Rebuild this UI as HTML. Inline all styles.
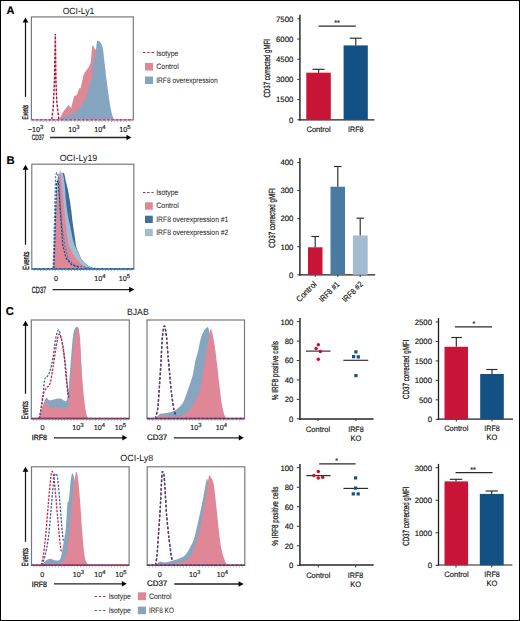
<!DOCTYPE html><html><head><meta charset="utf-8"><style>html,body{margin:0;padding:0;background:#fff;}svg{display:block;}</style></head><body>
<svg width="520" height="621" viewBox="0 0 520 621" text-rendering="geometricPrecision" font-family='"Liberation Sans", sans-serif'>
<rect x="0" y="0" width="520" height="621" fill="#fff" stroke="none" stroke-width="0"/>
<text x="6.6" y="14.4" font-size="11" text-anchor="start" fill="#000" stroke="#000" stroke-width="0.14" font-weight="bold" >A</text>
<text x="78.5" y="13.6" font-size="9" text-anchor="middle" fill="#111" stroke="#111" stroke-width="0" textLength="31.7" lengthAdjust="spacingAndGlyphs" >OCI-Ly1</text>
<path d="M59.2,119.3 L63.4,111.4 L68.3,105.1 L71.1,107.9 L73.9,96.7 L77.0,94.5 L79.3,88.3 L80.6,88.3 L83.8,74.1 L85.1,72.2 L88.6,67.2 L90.7,63.0 L92.2,45.5 L93.6,46.2 L95.0,49.7 L96.4,49.0 L100.0,60.0 L104.0,80.0 L108.0,100.0 L112.0,119.3 Z" fill="#E08797" stroke="none" />
<path d="M59.20,119.30 C60.60,118.68 65.27,116.57 67.60,115.60 C69.93,114.63 71.50,114.55 73.20,113.50 C74.90,112.45 76.20,110.93 77.80,109.30 C79.40,107.67 81.27,106.27 82.80,103.70 C84.33,101.13 85.87,97.17 87.00,93.90 C88.13,90.63 88.72,87.08 89.60,84.10 C90.48,81.12 91.75,79.28 92.30,76.00 C92.85,72.72 92.33,68.43 92.90,64.40 C93.47,60.37 95.00,55.65 95.70,51.80 C96.40,47.95 96.52,43.05 97.10,41.30 C97.68,39.55 98.62,41.07 99.20,41.30 C99.78,41.53 100.02,41.65 100.60,42.70 C101.18,43.75 102.12,44.92 102.70,47.60 C103.28,50.28 103.52,53.88 104.10,58.80 C104.68,63.72 105.38,70.55 106.20,77.10 C107.02,83.65 108.18,92.50 109.00,98.10 C109.82,103.70 110.40,107.43 111.10,110.70 C111.80,113.97 112.72,116.27 113.20,117.70 C113.68,119.13 113.87,119.03 114.00,119.30 Z" fill="#86A5C0" stroke="none" />
<path d="M51.8,119.3 L53.2,108.0 L54.5,80.0 L55.3,34.0 L55.9,80.0 L56.8,102.0 L58.8,119.3" fill="none" stroke="#A8163E" stroke-width="1.4" stroke-dasharray="2.6,1.4" />
<rect x="31.4" y="16.9" width="101.9" height="102.80000000000001" fill="none" stroke="#7a7a7a" stroke-width="1.2"/>
<line x1="33.5" y1="121.39999999999999" x2="131.3" y2="121.39999999999999" stroke="#9a9a9a" stroke-width="1.3" stroke-dasharray="0.7,2.4"/>
<line x1="31.5" y1="119.8" x2="133.3" y2="119.8" stroke="#9AB8D0" stroke-width="1.5"/>
<line x1="31.5" y1="119.8" x2="133.3" y2="119.8" stroke="#D0406A" stroke-width="1.5" stroke-dasharray="2.6,1.6"/>
<line x1="25.5" y1="96.9" x2="25.5" y2="21.5" stroke="#161616" stroke-width="1.25"/>
<path d="M22.6,22.5 L25.5,17.5 L28.4,22.5 Z" fill="#000" stroke="none" />
<text x="27.8" y="119.5" font-size="8.3" text-anchor="start" fill="#111" stroke="#111" stroke-width="0.3" textLength="14.8" lengthAdjust="spacingAndGlyphs" transform="rotate(-90 27.8 119.5)" >Events</text>
<text x="35.5" y="131.5" font-size="7.2" text-anchor="middle" fill="#111" stroke="#111" stroke-width="0.14">−10<tspan font-size="5.90" dy="-2.7">3</tspan></text>
<text x="53" y="131.5" font-size="7.2" text-anchor="middle" fill="#111" stroke="#111" stroke-width="0.14" >0</text>
<text x="74" y="131.5" font-size="7.2" text-anchor="middle" fill="#111" stroke="#111" stroke-width="0.14">10<tspan font-size="5.90" dy="-2.7">3</tspan></text>
<text x="100" y="131.5" font-size="7.2" text-anchor="middle" fill="#111" stroke="#111" stroke-width="0.14">10<tspan font-size="5.90" dy="-2.7">4</tspan></text>
<text x="125" y="131.5" font-size="7.2" text-anchor="middle" fill="#111" stroke="#111" stroke-width="0.14">10<tspan font-size="5.90" dy="-2.7">5</tspan></text>
<text x="31.7" y="140" font-size="7.8" text-anchor="start" fill="#111" stroke="#111" stroke-width="0.25" textLength="12.4" lengthAdjust="spacingAndGlyphs" >CD37</text>
<line x1="50.1" y1="137.5" x2="127.5" y2="137.5" stroke="#222" stroke-width="1.3"/>
<path d="M126.5,134.7 L131.5,137.5 L126.5,140.3 Z" fill="#000" stroke="none" />
<line x1="143" y1="52.5" x2="154" y2="52.5" stroke="#D01840" stroke-width="1.1" stroke-dasharray="2.4,1.8"/>
<text x="156.2" y="55.6" font-size="7.8" text-anchor="start" fill="#1c1c1c" stroke="#1c1c1c" stroke-width="0.04" textLength="22.2" lengthAdjust="spacingAndGlyphs" >Isotype</text>
<rect x="145" y="63" width="8" height="7.5" fill="#E08797" stroke="none" stroke-width="0"/>
<text x="156.2" y="69.2" font-size="7.8" text-anchor="start" fill="#1c1c1c" stroke="#1c1c1c" stroke-width="0.04" textLength="22.6" lengthAdjust="spacingAndGlyphs" >Control</text>
<rect x="145" y="76.5" width="8" height="7.5" fill="#86A5C0" stroke="none" stroke-width="0"/>
<text x="156.2" y="82.6" font-size="7.8" text-anchor="start" fill="#1c1c1c" stroke="#1c1c1c" stroke-width="0.04" textLength="61.5" lengthAdjust="spacingAndGlyphs" >IRF8 overexpression</text>
<line x1="299.9" y1="14.8" x2="299.9" y2="120.4" stroke="#1e1e1e" stroke-width="1.4"/>
<line x1="299.2" y1="119.8" x2="374.4" y2="119.8" stroke="#1e1e1e" stroke-width="1.3"/>
<line x1="297.3" y1="119.8" x2="300" y2="119.8" stroke="#333" stroke-width="1"/>
<text x="293.4" y="122.6" font-size="7.8" text-anchor="end" fill="#111" stroke="#111" stroke-width="0.14" >0</text>
<line x1="297.3" y1="99.6" x2="300" y2="99.6" stroke="#333" stroke-width="1"/>
<text x="293.4" y="102.39999999999999" font-size="7.8" text-anchor="end" fill="#111" stroke="#111" stroke-width="0.14" >1500</text>
<line x1="297.3" y1="79.4" x2="300" y2="79.4" stroke="#333" stroke-width="1"/>
<text x="293.4" y="82.2" font-size="7.8" text-anchor="end" fill="#111" stroke="#111" stroke-width="0.14" >3000</text>
<line x1="297.3" y1="59.2" x2="300" y2="59.2" stroke="#333" stroke-width="1"/>
<text x="293.4" y="62.0" font-size="7.8" text-anchor="end" fill="#111" stroke="#111" stroke-width="0.14" >4500</text>
<line x1="297.3" y1="39.0" x2="300" y2="39.0" stroke="#333" stroke-width="1"/>
<text x="293.4" y="41.8" font-size="7.8" text-anchor="end" fill="#111" stroke="#111" stroke-width="0.14" >6000</text>
<line x1="297.3" y1="18.799999999999997" x2="300" y2="18.799999999999997" stroke="#333" stroke-width="1"/>
<text x="293.4" y="21.599999999999998" font-size="7.8" text-anchor="end" fill="#111" stroke="#111" stroke-width="0.14" >7500</text>
<text x="270.5" y="68.3" font-size="9" text-anchor="middle" fill="#111" stroke="#111" stroke-width="0.24" textLength="58.6" lengthAdjust="spacingAndGlyphs" transform="rotate(-90 270.5 68.3)" >CD37 corrected gMFI</text>
<rect x="306.3" y="72.7" width="24.5" height="47.1" fill="#C81436" stroke="none" stroke-width="0"/>
<rect x="343.6" y="45.4" width="24.2" height="74.4" fill="#135083" stroke="none" stroke-width="0"/>
<line x1="318.6" y1="72.7" x2="318.6" y2="69.3" stroke="#2a2a2a" stroke-width="1.15"/>
<line x1="312.5" y1="69.3" x2="324.6" y2="69.3" stroke="#2a2a2a" stroke-width="1.15"/>
<line x1="355.8" y1="45.4" x2="355.8" y2="38.2" stroke="#2a2a2a" stroke-width="1.15"/>
<line x1="349.7" y1="38.2" x2="361.8" y2="38.2" stroke="#2a2a2a" stroke-width="1.15"/>
<line x1="318.6" y1="26.1" x2="355.8" y2="26.1" stroke="#2a2a2a" stroke-width="1.15"/>
<text x="337" y="24.5" font-size="7" text-anchor="middle" fill="#111" stroke="#111" stroke-width="0.14" >**</text>
<text x="318.6" y="131.5" font-size="7.9" text-anchor="middle" fill="#111" stroke="#111" stroke-width="0.14" textLength="24.3" lengthAdjust="spacingAndGlyphs" >Control</text>
<text x="355.8" y="131.5" font-size="7.9" text-anchor="middle" fill="#111" stroke="#111" stroke-width="0.14" textLength="15.5" lengthAdjust="spacingAndGlyphs" >IRF8</text>
<text x="6.6" y="163.8" font-size="11.3" text-anchor="start" fill="#000" stroke="#000" stroke-width="0.14" font-weight="bold" >B</text>
<text x="78.5" y="160.6" font-size="9" text-anchor="middle" fill="#111" stroke="#111" stroke-width="0" textLength="37.5" lengthAdjust="spacingAndGlyphs" >OCI-Ly19</text>
<path d="M53.30,268.50 C53.75,257.08 55.22,215.08 56.00,200.00 C56.78,184.92 57.17,182.33 58.00,178.00 C58.83,173.67 60.00,174.80 61.00,174.00 C62.00,173.20 63.20,172.05 64.00,173.20 C64.80,174.35 65.13,178.12 65.80,180.90 C66.47,183.68 67.30,186.47 68.00,189.90 C68.70,193.33 69.45,198.07 70.00,201.50 C70.55,204.93 70.87,207.07 71.30,210.50 C71.73,213.93 72.07,218.02 72.60,222.10 C73.13,226.18 73.90,230.93 74.50,235.00 C75.10,239.07 75.55,243.67 76.20,246.50 C76.85,249.33 77.47,249.82 78.40,252.00 C79.33,254.18 80.38,257.48 81.80,259.60 C83.22,261.72 84.93,263.22 86.90,264.70 C88.87,266.18 92.48,267.87 93.60,268.50 Z" fill="#3F6C98" stroke="none" />
<path d="M53.30,268.50 C53.75,257.08 55.22,214.75 56.00,200.00 C56.78,185.25 57.25,184.33 58.00,180.00 C58.75,175.67 59.72,175.13 60.50,174.00 C61.28,172.87 62.00,171.42 62.70,173.20 C63.40,174.98 64.17,180.20 64.70,184.70 C65.23,189.20 65.37,195.05 65.90,200.20 C66.43,205.35 67.15,211.10 67.90,215.60 C68.65,220.10 69.55,223.12 70.40,227.20 C71.25,231.28 72.23,236.97 73.00,240.10 C73.77,243.23 74.23,244.17 75.00,246.00 C75.77,247.83 76.47,248.83 77.60,251.10 C78.73,253.37 80.25,257.33 81.80,259.60 C83.35,261.87 84.93,263.22 86.90,264.70 C88.87,266.18 92.48,267.87 93.60,268.50 Z" fill="#A3BCD2" stroke="none" />
<path d="M53.90,268.50 C54.32,259.70 55.70,229.28 56.40,215.70 C57.10,202.12 57.47,194.63 58.10,187.00 C58.73,179.37 59.53,169.85 60.20,169.90 C60.87,169.95 61.47,181.18 62.10,187.30 C62.73,193.42 63.37,200.17 64.00,206.60 C64.63,213.03 65.25,220.32 65.90,225.90 C66.55,231.48 67.28,236.50 67.90,240.10 C68.52,243.70 68.70,245.10 69.60,247.50 C70.50,249.90 71.83,252.20 73.30,254.50 C74.77,256.80 76.70,259.47 78.40,261.30 C80.10,263.13 81.82,264.30 83.50,265.50 C85.18,266.70 87.67,268.00 88.50,268.50 Z" fill="#E08797" stroke="none" />
<path d="M53.1,268.3 L54.5,220.0 L55.6,176.0 L56.6,172.8 L57.8,173.5 L59.0,182.0 L60.3,206.0 L62.0,227.0 L64.9,246.1 L68.3,259.6 L75.0,265.5 L86.9,267.6 L95.0,268.3" fill="none" stroke="#3A88C8" stroke-width="1.3" stroke-dasharray="2.2,1.4" />
<path d="M54.0,268.3 L55.5,220.0 L56.6,182.0 L58.2,181.0 L60.5,213.0 L62.7,245.0 L66.0,258.0 L72.0,265.0 L80.0,267.5" fill="none" stroke="#2A4270" stroke-width="1.2" stroke-dasharray="2.2,1.4" />
<rect x="31.8" y="164.2" width="102.00000000000001" height="105.0" fill="none" stroke="#7a7a7a" stroke-width="1.2"/>
<line x1="33.8" y1="270.40000000000003" x2="131.8" y2="270.40000000000003" stroke="#9a9a9a" stroke-width="1.3" stroke-dasharray="0.7,2.4"/>
<line x1="31.8" y1="268.8" x2="133.8" y2="268.8" stroke="#2E5A8A" stroke-width="1.5"/>
<line x1="31.8" y1="268.8" x2="133.8" y2="268.8" stroke="#3A88C8" stroke-width="1.5" stroke-dasharray="2.6,1.6"/>
<line x1="25.5" y1="244.8" x2="25.5" y2="168.8" stroke="#161616" stroke-width="1.25"/>
<path d="M22.6,169.8 L25.5,164.8 L28.4,169.8 Z" fill="#000" stroke="none" />
<text x="28.9" y="269.9" font-size="9" text-anchor="start" fill="#111" stroke="#111" stroke-width="0.3" textLength="18.5" lengthAdjust="spacingAndGlyphs" transform="rotate(-90 28.9 269.9)" >Events</text>
<text x="56" y="281" font-size="7.2" text-anchor="middle" fill="#111" stroke="#111" stroke-width="0.14" >0</text>
<text x="100" y="281" font-size="7.2" text-anchor="middle" fill="#111" stroke="#111" stroke-width="0.14">10<tspan font-size="5.90" dy="-2.7">4</tspan></text>
<text x="124.5" y="281" font-size="7.2" text-anchor="middle" fill="#111" stroke="#111" stroke-width="0.14">10<tspan font-size="5.90" dy="-2.7">5</tspan></text>
<text x="31.7" y="292.5" font-size="9" text-anchor="start" fill="#111" stroke="#111" stroke-width="0.25" textLength="14.5" lengthAdjust="spacingAndGlyphs" >CD37</text>
<line x1="52.5" y1="289.6" x2="130.2" y2="289.6" stroke="#222" stroke-width="1.3"/>
<path d="M129.2,286.8 L134.2,289.6 L129.2,292.4 Z" fill="#000" stroke="none" />
<line x1="143" y1="192.5" x2="153.5" y2="192.5" stroke="#D01840" stroke-width="1.1" stroke-dasharray="2.4,1.8"/>
<text x="156.2" y="195.0" font-size="7.8" text-anchor="start" fill="#1c1c1c" stroke="#1c1c1c" stroke-width="0.04" textLength="22.2" lengthAdjust="spacingAndGlyphs" >Isotype</text>
<rect x="145" y="202.3" width="7.8" height="7.4" fill="#E08797" stroke="none" stroke-width="0"/>
<text x="156.2" y="208.4" font-size="7.8" text-anchor="start" fill="#1c1c1c" stroke="#1c1c1c" stroke-width="0.04" textLength="22.6" lengthAdjust="spacingAndGlyphs" >Control</text>
<rect x="145" y="215.7" width="7.8" height="7.3" fill="#44709B" stroke="none" stroke-width="0"/>
<text x="156.2" y="221.8" font-size="7.8" text-anchor="start" fill="#1c1c1c" stroke="#1c1c1c" stroke-width="0.04" textLength="72.2" lengthAdjust="spacingAndGlyphs" >IRF8 overexpression #1</text>
<rect x="145" y="228.8" width="7.8" height="7.4" fill="#A3BCD2" stroke="none" stroke-width="0"/>
<text x="156.2" y="234.9" font-size="7.8" text-anchor="start" fill="#1c1c1c" stroke="#1c1c1c" stroke-width="0.04" textLength="72.2" lengthAdjust="spacingAndGlyphs" >IRF8 overexpression #2</text>
<line x1="299.9" y1="157.9" x2="299.9" y2="275.4" stroke="#1e1e1e" stroke-width="1.4"/>
<line x1="299.2" y1="274.8" x2="375.2" y2="274.8" stroke="#1e1e1e" stroke-width="1.3"/>
<line x1="297.3" y1="274.8" x2="300" y2="274.8" stroke="#333" stroke-width="1"/>
<text x="293.4" y="277.6" font-size="7.8" text-anchor="end" fill="#111" stroke="#111" stroke-width="0.14" >0</text>
<line x1="297.3" y1="246.72000000000003" x2="300" y2="246.72000000000003" stroke="#333" stroke-width="1"/>
<text x="293.4" y="249.52000000000004" font-size="7.8" text-anchor="end" fill="#111" stroke="#111" stroke-width="0.14" >100</text>
<line x1="297.3" y1="218.64000000000001" x2="300" y2="218.64000000000001" stroke="#333" stroke-width="1"/>
<text x="293.4" y="221.44000000000003" font-size="7.8" text-anchor="end" fill="#111" stroke="#111" stroke-width="0.14" >200</text>
<line x1="297.3" y1="190.56" x2="300" y2="190.56" stroke="#333" stroke-width="1"/>
<text x="293.4" y="193.36" font-size="7.8" text-anchor="end" fill="#111" stroke="#111" stroke-width="0.14" >300</text>
<line x1="297.3" y1="162.48000000000002" x2="300" y2="162.48000000000002" stroke="#333" stroke-width="1"/>
<text x="293.4" y="165.28000000000003" font-size="7.8" text-anchor="end" fill="#111" stroke="#111" stroke-width="0.14" >400</text>
<text x="274.9" y="218" font-size="9" text-anchor="middle" fill="#111" stroke="#111" stroke-width="0.24" textLength="59.3" lengthAdjust="spacingAndGlyphs" transform="rotate(-90 274.9 218)" >CD37 corrected gMFI</text>
<rect x="308" y="247.3" width="14.5" height="27.5" fill="#C81436" stroke="none" stroke-width="0"/>
<rect x="330.5" y="186.7" width="14.5" height="88.1" fill="#487AA2" stroke="none" stroke-width="0"/>
<rect x="352.9" y="235.5" width="14.8" height="39.3" fill="#A3BCD2" stroke="none" stroke-width="0"/>
<line x1="315.2" y1="247.3" x2="315.2" y2="236.5" stroke="#2a2a2a" stroke-width="1.15"/>
<line x1="311.4" y1="236.5" x2="319.0" y2="236.5" stroke="#2a2a2a" stroke-width="1.15"/>
<line x1="315.2" y1="274.8" x2="315.2" y2="277" stroke="#333" stroke-width="1"/>
<line x1="337.8" y1="186.7" x2="337.8" y2="166.5" stroke="#2a2a2a" stroke-width="1.15"/>
<line x1="334.0" y1="166.5" x2="341.6" y2="166.5" stroke="#2a2a2a" stroke-width="1.15"/>
<line x1="337.8" y1="274.8" x2="337.8" y2="277" stroke="#333" stroke-width="1"/>
<line x1="360.2" y1="235.5" x2="360.2" y2="218.2" stroke="#2a2a2a" stroke-width="1.15"/>
<line x1="356.4" y1="218.2" x2="364.0" y2="218.2" stroke="#2a2a2a" stroke-width="1.15"/>
<line x1="360.2" y1="274.8" x2="360.2" y2="277" stroke="#333" stroke-width="1"/>
<text x="317.2" y="284.8" font-size="8.3" text-anchor="end" fill="#111" stroke="#111" stroke-width="0.14" textLength="25" lengthAdjust="spacingAndGlyphs" transform="rotate(-45 317.2 284.8)" >Control</text>
<text x="340.2" y="284.8" font-size="8.3" text-anchor="end" fill="#111" stroke="#111" stroke-width="0.14" textLength="25.5" lengthAdjust="spacingAndGlyphs" transform="rotate(-45 340.2 284.8)" >IRF8 #1</text>
<text x="363.5" y="284.8" font-size="8.3" text-anchor="end" fill="#111" stroke="#111" stroke-width="0.14" textLength="25.5" lengthAdjust="spacingAndGlyphs" transform="rotate(-45 363.5 284.8)" >IRF8 #2</text>
<text x="5.8" y="314.6" font-size="11.3" text-anchor="start" fill="#000" stroke="#000" stroke-width="0.14" font-weight="bold" >C</text>
<text x="137.85" y="314.5" font-size="9" text-anchor="middle" fill="#111" stroke="#111" stroke-width="0" textLength="21.7" lengthAdjust="spacingAndGlyphs" >BJAB</text>
<path d="M38.90,418.80 C39.57,416.62 41.70,409.20 42.90,405.70 C44.10,402.20 45.05,398.72 46.10,397.80 C47.15,396.88 47.90,399.93 49.20,400.20 C50.50,400.47 52.05,399.67 53.90,399.40 C55.75,399.13 58.25,398.33 60.30,398.60 C62.35,398.87 64.85,402.18 66.20,401.00 C67.55,399.82 67.80,395.98 68.40,391.50 C69.00,387.02 69.30,380.42 69.80,374.10 C70.30,367.78 70.87,359.92 71.40,353.60 C71.93,347.28 72.40,340.42 73.00,336.20 C73.60,331.98 74.28,329.80 75.00,328.30 C75.72,326.80 76.63,326.58 77.30,327.20 C77.97,327.82 78.38,326.53 79.00,332.00 C79.62,337.47 80.33,349.50 81.00,360.00 C81.67,370.50 82.17,385.67 83.00,395.00 C83.83,404.33 85.17,412.03 86.00,416.00 C86.83,419.97 87.67,418.33 88.00,418.80 Z" fill="#86A5C0" stroke="none" />
<path d="M39.70,418.80 C40.50,416.35 43.18,406.68 44.50,404.10 C45.82,401.52 46.55,402.65 47.60,403.30 C48.65,403.95 49.48,407.33 50.80,408.00 C52.12,408.67 53.78,407.30 55.50,407.30 C57.22,407.30 59.25,407.75 61.10,408.00 C62.95,408.25 65.28,410.50 66.60,408.80 C67.92,407.10 68.22,403.58 69.00,397.80 C69.78,392.02 70.52,382.78 71.30,374.10 C72.08,365.42 72.85,353.20 73.70,345.70 C74.55,338.20 75.70,332.13 76.40,329.10 C77.10,326.07 77.30,326.05 77.90,327.50 C78.50,328.95 79.38,330.82 80.00,337.80 C80.62,344.78 80.93,359.40 81.60,369.40 C82.27,379.40 83.22,390.43 84.00,397.80 C84.78,405.17 85.55,410.10 86.30,413.60 C87.05,417.10 88.13,417.93 88.50,418.80 Z" fill="#E08797" stroke="none" />
<path d="M38.90,418.50 C39.43,416.10 41.17,410.45 42.10,404.10 C43.03,397.75 43.72,384.87 44.50,380.40 C45.28,375.93 45.88,378.87 46.80,377.30 C47.72,375.73 48.93,374.43 50.00,371.00 C51.07,367.57 52.28,361.97 53.20,356.70 C54.12,351.43 54.72,343.73 55.50,339.40 C56.28,335.07 57.23,332.02 57.90,330.70 C58.57,329.38 58.97,330.32 59.50,331.50 C60.03,332.68 60.45,334.92 61.10,337.80 C61.75,340.68 62.62,342.75 63.40,348.80 C64.18,354.85 65.13,367.78 65.80,374.10 C66.47,380.42 66.87,382.72 67.40,386.70 C67.93,390.68 68.73,396.12 69.00,398.00" fill="none" stroke="#3263A6" stroke-width="1.3" stroke-dasharray="2.2,1.4" />
<path d="M39.70,418.50 C40.23,414.78 41.83,401.23 42.90,396.20 C43.97,391.17 44.92,390.40 46.10,388.30 C47.28,386.20 48.82,387.28 50.00,383.60 C51.18,379.92 52.15,372.52 53.20,366.20 C54.25,359.88 55.38,350.97 56.30,345.70 C57.22,340.43 57.90,335.92 58.70,334.60 C59.50,333.28 60.32,335.17 61.10,337.80 C61.88,340.43 62.62,345.40 63.40,350.40 C64.18,355.40 65.13,361.22 65.80,367.80 C66.47,374.38 66.95,384.87 67.40,389.90 C67.85,394.93 68.32,396.65 68.50,398.00" fill="none" stroke="#D0203F" stroke-width="1.3" stroke-dasharray="2.2,1.4" />
<rect x="31.3" y="320" width="98.00000000000001" height="98.80000000000001" fill="none" stroke="#7a7a7a" stroke-width="1.2"/>
<line x1="33.3" y1="420.20000000000005" x2="127.30000000000001" y2="420.20000000000005" stroke="#9a9a9a" stroke-width="1.3" stroke-dasharray="0.7,2.4"/>
<line x1="31.3" y1="418.6" x2="129.3" y2="418.6" stroke="#24508A" stroke-width="1.5"/>
<line x1="31.3" y1="418.6" x2="129.3" y2="418.6" stroke="#D02848" stroke-width="1.5" stroke-dasharray="2.6,1.6"/>
<line x1="25.5" y1="393.7" x2="25.5" y2="324.8" stroke="#161616" stroke-width="1.25"/>
<path d="M22.6,325.8 L25.5,320.8 L28.4,325.8 Z" fill="#000" stroke="none" />
<text x="27.7" y="419.5" font-size="9.3" text-anchor="start" fill="#111" stroke="#111" stroke-width="0.3" textLength="18.5" lengthAdjust="spacingAndGlyphs" transform="rotate(-90 27.7 419.5)" >Events</text>
<text x="42.5" y="430" font-size="7.2" text-anchor="middle" fill="#111" stroke="#111" stroke-width="0.14" >0</text>
<text x="78" y="430" font-size="7.2" text-anchor="middle" fill="#111" stroke="#111" stroke-width="0.14">10<tspan font-size="5.90" dy="-2.7">3</tspan></text>
<text x="99.5" y="430" font-size="7.2" text-anchor="middle" fill="#111" stroke="#111" stroke-width="0.14">10<tspan font-size="5.90" dy="-2.7">4</tspan></text>
<text x="120.5" y="430" font-size="7.2" text-anchor="middle" fill="#111" stroke="#111" stroke-width="0.14">10<tspan font-size="5.90" dy="-2.7">5</tspan></text>
<text x="31.7" y="440" font-size="7.5" text-anchor="start" fill="#111" stroke="#111" stroke-width="0.25" textLength="15.3" lengthAdjust="spacingAndGlyphs" >IRF8</text>
<line x1="54.0" y1="437.8" x2="123.3" y2="437.8" stroke="#222" stroke-width="1.3"/>
<path d="M122.3,435.0 L127.3,437.8 L122.3,440.6 Z" fill="#000" stroke="none" />
<path d="M155.50,418.80 C156.17,418.05 158.32,415.18 159.50,414.30 C160.68,413.42 161.28,413.77 162.60,413.50 C163.92,413.23 165.55,413.08 167.40,412.70 C169.25,412.32 171.73,412.12 173.70,411.20 C175.67,410.28 177.63,408.65 179.20,407.20 C180.77,405.75 181.92,404.60 183.10,402.50 C184.28,400.40 185.05,398.02 186.30,394.60 C187.55,391.18 189.48,385.42 190.60,382.00 C191.72,378.58 192.23,377.53 193.00,374.10 C193.77,370.67 194.33,365.35 195.20,361.40 C196.07,357.45 197.32,354.07 198.20,350.40 C199.08,346.73 199.60,342.55 200.50,339.40 C201.40,336.25 202.55,333.48 203.60,331.50 C204.65,329.52 205.95,327.90 206.80,327.50 C207.65,327.10 208.00,326.18 208.70,329.10 C209.40,332.02 210.12,333.18 211.00,345.00 C211.88,356.82 213.17,387.70 214.00,400.00 C214.83,412.30 215.67,415.67 216.00,418.80 Z" fill="#86A5C0" stroke="none" />
<path d="M157.10,418.80 C157.75,418.18 159.55,415.45 161.00,415.10 C162.45,414.75 163.43,416.43 165.80,416.70 C168.17,416.97 172.57,416.83 175.20,416.70 C177.83,416.57 179.48,416.70 181.60,415.90 C183.72,415.10 186.07,413.62 187.90,411.90 C189.73,410.18 190.70,409.02 192.60,405.60 C194.50,402.18 197.68,396.13 199.30,391.40 C200.92,386.67 201.35,382.20 202.30,377.20 C203.25,372.20 204.12,366.65 205.00,361.40 C205.88,356.15 206.77,350.68 207.60,345.70 C208.43,340.72 209.47,334.27 210.00,331.50 C210.53,328.73 210.42,328.85 210.80,329.10 C211.18,329.35 211.65,330.23 212.30,333.00 C212.95,335.77 213.90,340.43 214.70,345.70 C215.50,350.97 216.32,358.03 217.10,364.60 C217.88,371.17 218.62,378.52 219.40,385.10 C220.18,391.68 221.00,399.23 221.80,404.10 C222.60,408.97 223.42,411.85 224.20,414.30 C224.98,416.75 226.12,418.05 226.50,418.80 Z" fill="#E08797" stroke="none" />
<path d="M155.50,418.50 C155.74,417.37 157.50,410.54 157.90,407.20 C158.30,403.86 159.19,389.68 159.50,385.10 C159.81,380.52 160.72,366.13 161.00,361.40 C161.28,356.67 162.01,341.27 162.30,337.80 C162.59,334.33 163.63,327.81 163.90,326.70 C164.17,325.59 164.73,325.59 165.00,326.70 C165.27,327.81 166.29,334.80 166.60,337.80 C166.91,340.80 167.79,353.07 168.10,356.70 C168.41,360.33 169.38,370.63 169.70,374.10 C170.02,377.57 170.90,387.93 171.30,391.40 C171.70,394.87 173.23,406.34 173.70,408.80 C174.17,411.26 175.77,415.28 176.00,416.00" fill="none" stroke="#D0203F" stroke-width="1.4" stroke-dasharray="2.4,2" stroke-dashoffset="0.6"/>
<path d="M155.50,418.50 C155.74,417.37 157.50,410.54 157.90,407.20 C158.30,403.86 159.19,389.68 159.50,385.10 C159.81,380.52 160.72,366.13 161.00,361.40 C161.28,356.67 162.01,341.27 162.30,337.80 C162.59,334.33 163.63,327.81 163.90,326.70 C164.17,325.59 164.73,325.59 165.00,326.70 C165.27,327.81 166.29,334.80 166.60,337.80 C166.91,340.80 167.79,353.07 168.10,356.70 C168.41,360.33 169.38,370.63 169.70,374.10 C170.02,377.57 170.90,387.93 171.30,391.40 C171.70,394.87 173.23,406.34 173.70,408.80 C174.17,411.26 175.77,415.28 176.00,416.00" fill="none" stroke="#2A4E90" stroke-width="1.4" stroke-dasharray="2.4,2" />
<rect x="147" y="320" width="97.5" height="98.80000000000001" fill="none" stroke="#7a7a7a" stroke-width="1.2"/>
<line x1="149" y1="420.20000000000005" x2="242.5" y2="420.20000000000005" stroke="#9a9a9a" stroke-width="1.3" stroke-dasharray="0.7,2.4"/>
<line x1="147" y1="418.6" x2="244.5" y2="418.6" stroke="#D02848" stroke-width="1.5"/>
<line x1="147" y1="418.6" x2="244.5" y2="418.6" stroke="#24508A" stroke-width="1.5" stroke-dasharray="2.6,1.6"/>
<text x="158.8" y="430" font-size="7.2" text-anchor="middle" fill="#111" stroke="#111" stroke-width="0.14" >0</text>
<text x="196" y="430" font-size="7.2" text-anchor="middle" fill="#111" stroke="#111" stroke-width="0.14">10<tspan font-size="5.90" dy="-2.7">3</tspan></text>
<text x="221.5" y="430" font-size="7.2" text-anchor="middle" fill="#111" stroke="#111" stroke-width="0.14">10<tspan font-size="5.90" dy="-2.7">4</tspan></text>
<text x="146.9" y="440.4" font-size="8" text-anchor="start" fill="#111" stroke="#111" stroke-width="0.2" textLength="20.4" lengthAdjust="spacingAndGlyphs" >CD37</text>
<line x1="173.8" y1="437.8" x2="239.8" y2="437.8" stroke="#222" stroke-width="1.3"/>
<path d="M238.8,435.0 L243.8,437.8 L238.8,440.6 Z" fill="#000" stroke="none" />
<line x1="299.95" y1="318.1" x2="299.95" y2="419.8" stroke="#262626" stroke-width="1.5"/>
<line x1="299.2" y1="419.05" x2="373.5" y2="419.05" stroke="#262626" stroke-width="1.5"/>
<line x1="296.8" y1="418.8" x2="299.4" y2="418.8" stroke="#333" stroke-width="1"/>
<text x="293.4" y="421.6" font-size="7.8" text-anchor="end" fill="#111" stroke="#111" stroke-width="0.14" >0</text>
<line x1="296.8" y1="399.38" x2="299.4" y2="399.38" stroke="#333" stroke-width="1"/>
<text x="293.4" y="402.18" font-size="7.8" text-anchor="end" fill="#111" stroke="#111" stroke-width="0.14" >20</text>
<line x1="296.8" y1="379.96000000000004" x2="299.4" y2="379.96000000000004" stroke="#333" stroke-width="1"/>
<text x="293.4" y="382.76000000000005" font-size="7.8" text-anchor="end" fill="#111" stroke="#111" stroke-width="0.14" >40</text>
<line x1="296.8" y1="360.54" x2="299.4" y2="360.54" stroke="#333" stroke-width="1"/>
<text x="293.4" y="363.34000000000003" font-size="7.8" text-anchor="end" fill="#111" stroke="#111" stroke-width="0.14" >60</text>
<line x1="296.8" y1="341.12" x2="299.4" y2="341.12" stroke="#333" stroke-width="1"/>
<text x="293.4" y="343.92" font-size="7.8" text-anchor="end" fill="#111" stroke="#111" stroke-width="0.14" >80</text>
<line x1="296.8" y1="321.7" x2="299.4" y2="321.7" stroke="#333" stroke-width="1"/>
<text x="293.4" y="324.5" font-size="7.8" text-anchor="end" fill="#111" stroke="#111" stroke-width="0.14" >100</text>
<text x="278.5" y="370.6" font-size="8.8" text-anchor="middle" fill="#111" stroke="#111" stroke-width="0.24" textLength="59.2" lengthAdjust="spacingAndGlyphs" transform="rotate(-90 278.5 370.6)" >% IRF8 positive cells</text>
<line x1="305.9" y1="351.1" x2="330.5" y2="351.1" stroke="#2a2a2a" stroke-width="1.15"/>
<line x1="343.3" y1="360.3" x2="368.2" y2="360.3" stroke="#2a2a2a" stroke-width="1.15"/>
<circle cx="318.3" cy="344.8" r="1.75" fill="#D00A2E"/>
<circle cx="316.1" cy="348.6" r="1.75" fill="#D00A2E"/>
<circle cx="320.4" cy="351.6" r="1.75" fill="#D00A2E"/>
<circle cx="318.3" cy="359.2" r="1.75" fill="#D00A2E"/>
<rect x="354.29999999999995" y="350.29999999999995" width="3.2" height="3.2" fill="#135083" stroke="none" stroke-width="0"/>
<rect x="352.0" y="355.0" width="3.2" height="3.2" fill="#135083" stroke="none" stroke-width="0"/>
<rect x="356.7" y="355.29999999999995" width="3.2" height="3.2" fill="#135083" stroke="none" stroke-width="0"/>
<rect x="354.29999999999995" y="374.0" width="3.2" height="3.2" fill="#135083" stroke="none" stroke-width="0"/>
<line x1="318" y1="418.8" x2="318" y2="421" stroke="#333" stroke-width="1"/>
<line x1="355.9" y1="418.8" x2="355.9" y2="421" stroke="#333" stroke-width="1"/>
<text x="318" y="431.7" font-size="7.9" text-anchor="middle" fill="#111" stroke="#111" stroke-width="0.14" textLength="24.3" lengthAdjust="spacingAndGlyphs" >Control</text>
<text x="355.9" y="431.7" font-size="7.9" text-anchor="middle" fill="#111" stroke="#111" stroke-width="0.14" textLength="15.5" lengthAdjust="spacingAndGlyphs" >IRF8</text>
<text x="355.9" y="440.8" font-size="7.9" text-anchor="middle" fill="#111" stroke="#111" stroke-width="0.14" textLength="10.8" lengthAdjust="spacingAndGlyphs" >KO</text>
<line x1="438.5" y1="318" x2="438.5" y2="419.7" stroke="#1e1e1e" stroke-width="1.3"/>
<line x1="437.85" y1="419.1" x2="513" y2="419.1" stroke="#1e1e1e" stroke-width="1.2"/>
<line x1="435.7" y1="419.3" x2="438.3" y2="419.3" stroke="#333" stroke-width="1"/>
<text x="432" y="422.1" font-size="7.8" text-anchor="end" fill="#111" stroke="#111" stroke-width="0.14" >0</text>
<line x1="435.7" y1="399.84000000000003" x2="438.3" y2="399.84000000000003" stroke="#333" stroke-width="1"/>
<text x="432" y="402.64000000000004" font-size="7.8" text-anchor="end" fill="#111" stroke="#111" stroke-width="0.14" >500</text>
<line x1="435.7" y1="380.38" x2="438.3" y2="380.38" stroke="#333" stroke-width="1"/>
<text x="432" y="383.18" font-size="7.8" text-anchor="end" fill="#111" stroke="#111" stroke-width="0.14" >1000</text>
<line x1="435.7" y1="360.92" x2="438.3" y2="360.92" stroke="#333" stroke-width="1"/>
<text x="432" y="363.72" font-size="7.8" text-anchor="end" fill="#111" stroke="#111" stroke-width="0.14" >1500</text>
<line x1="435.7" y1="341.46000000000004" x2="438.3" y2="341.46000000000004" stroke="#333" stroke-width="1"/>
<text x="432" y="344.26000000000005" font-size="7.8" text-anchor="end" fill="#111" stroke="#111" stroke-width="0.14" >2000</text>
<line x1="435.7" y1="322.0" x2="438.3" y2="322.0" stroke="#333" stroke-width="1"/>
<text x="432" y="324.8" font-size="7.8" text-anchor="end" fill="#111" stroke="#111" stroke-width="0.14" >2500</text>
<text x="408.8" y="369.3" font-size="9" text-anchor="middle" fill="#111" stroke="#111" stroke-width="0.24" textLength="59.2" lengthAdjust="spacingAndGlyphs" transform="rotate(-90 408.8 369.3)" >CD37 corrected gMFI</text>
<rect x="444.5" y="346.8" width="23.5" height="72.5" fill="#C81436" stroke="none" stroke-width="0"/>
<rect x="480.2" y="374" width="23.6" height="45.3" fill="#135083" stroke="none" stroke-width="0"/>
<line x1="456.3" y1="346.8" x2="456.3" y2="337.5" stroke="#2a2a2a" stroke-width="1.15"/>
<line x1="451.3" y1="337.5" x2="462" y2="337.5" stroke="#2a2a2a" stroke-width="1.15"/>
<line x1="492" y1="374" x2="492" y2="369.5" stroke="#2a2a2a" stroke-width="1.15"/>
<line x1="486.3" y1="369.5" x2="497.5" y2="369.5" stroke="#2a2a2a" stroke-width="1.15"/>
<line x1="456.3" y1="419.3" x2="456.3" y2="421.5" stroke="#333" stroke-width="1"/>
<line x1="492" y1="419.3" x2="492" y2="421.5" stroke="#333" stroke-width="1"/>
<line x1="455" y1="326.8" x2="492" y2="326.8" stroke="#2a2a2a" stroke-width="1.15"/>
<text x="473.8" y="326" font-size="7" text-anchor="middle" fill="#111" stroke="#111" stroke-width="0.14" >*</text>
<text x="456.3" y="431.3" font-size="7.9" text-anchor="middle" fill="#111" stroke="#111" stroke-width="0.14" textLength="24.3" lengthAdjust="spacingAndGlyphs" >Control</text>
<text x="492" y="431.3" font-size="7.9" text-anchor="middle" fill="#111" stroke="#111" stroke-width="0.14" textLength="15.5" lengthAdjust="spacingAndGlyphs" >IRF8</text>
<text x="492" y="440" font-size="7.9" text-anchor="middle" fill="#111" stroke="#111" stroke-width="0.14" textLength="10.8" lengthAdjust="spacingAndGlyphs" >KO</text>
<text x="136.8" y="460.5" font-size="9" text-anchor="middle" fill="#111" stroke="#111" stroke-width="0" textLength="33" lengthAdjust="spacingAndGlyphs" >OCI-Ly8</text>
<path d="M41.30,565.30 C42.10,564.48 44.65,561.48 46.10,560.40 C47.55,559.32 48.70,558.88 50.00,558.80 C51.30,558.72 52.45,559.63 53.90,559.90 C55.35,560.17 57.50,560.98 58.70,560.40 C59.90,559.82 60.32,559.17 61.10,556.40 C61.88,553.63 62.62,548.53 63.40,543.80 C64.18,539.07 65.13,534.58 65.80,528.00 C66.47,521.42 66.87,509.03 67.40,504.30 C67.93,499.57 68.48,503.28 69.00,499.60 C69.52,495.92 69.98,486.55 70.50,482.20 C71.02,477.85 71.57,474.55 72.10,473.50 C72.63,472.45 73.25,474.45 73.70,475.90 C74.15,477.35 74.25,476.52 74.80,482.20 C75.35,487.88 76.13,498.70 77.00,510.00 C77.87,521.30 79.00,540.78 80.00,550.00 C81.00,559.22 82.50,562.75 83.00,565.30 Z" fill="#86A5C0" stroke="none" />
<path d="M42.10,565.30 C43.55,565.17 48.03,564.63 50.80,564.50 C53.57,564.37 56.73,565.05 58.70,564.50 C60.67,563.95 61.42,562.55 62.60,561.20 C63.78,559.85 64.87,559.30 65.80,556.40 C66.73,553.50 67.42,549.85 68.20,543.80 C68.98,537.75 69.72,528.52 70.50,520.10 C71.28,511.68 72.10,500.67 72.90,493.30 C73.70,485.93 74.72,479.47 75.30,475.90 C75.88,472.33 75.97,471.63 76.40,471.90 C76.83,472.17 77.30,472.88 77.90,477.50 C78.50,482.12 79.25,490.13 80.00,499.60 C80.75,509.07 81.62,524.83 82.40,534.30 C83.18,543.77 83.92,551.53 84.70,556.40 C85.48,561.27 86.47,562.02 87.10,563.50 C87.73,564.98 88.27,565.00 88.50,565.30 Z" fill="#E08797" stroke="none" />
<path d="M41.30,565.00 C41.70,563.05 42.90,558.93 43.70,553.30 C44.50,547.67 45.32,539.63 46.10,531.20 C46.88,522.77 47.62,511.65 48.40,502.70 C49.18,493.75 50.18,482.70 50.80,477.50 C51.42,472.30 51.63,471.77 52.10,471.50 C52.57,471.23 53.03,472.27 53.60,475.90 C54.17,479.53 54.78,485.93 55.50,493.30 C56.22,500.67 57.10,511.42 57.90,520.10 C58.70,528.78 59.70,540.13 60.30,545.40 C60.90,550.67 61.30,550.65 61.50,551.70" fill="none" stroke="#D0203F" stroke-width="1.3" stroke-dasharray="2.2,1.4" />
<path d="M42.10,565.00 C42.63,563.30 44.25,559.38 45.30,554.80 C46.35,550.22 47.48,544.60 48.40,537.50 C49.32,530.40 50.00,520.88 50.80,512.20 C51.60,503.52 52.55,491.58 53.20,485.40 C53.85,479.22 54.18,476.95 54.70,475.10 C55.22,473.25 55.77,473.38 56.30,474.30 C56.83,475.22 57.23,475.07 57.90,480.60 C58.57,486.13 59.58,499.07 60.30,507.50 C61.02,515.93 61.68,525.68 62.20,531.20 C62.72,536.72 63.20,539.03 63.40,540.60" fill="none" stroke="#3263A6" stroke-width="1.3" stroke-dasharray="2.2,1.4" />
<rect x="31.5" y="466.8" width="97.6" height="98.49999999999994" fill="none" stroke="#7a7a7a" stroke-width="1.2"/>
<line x1="33.5" y1="566.8000000000001" x2="127.1" y2="566.8000000000001" stroke="#9a9a9a" stroke-width="1.3" stroke-dasharray="0.7,2.4"/>
<line x1="31.5" y1="565.2" x2="129.1" y2="565.2" stroke="#24508A" stroke-width="1.5"/>
<line x1="31.5" y1="565.2" x2="129.1" y2="565.2" stroke="#D02848" stroke-width="1.5" stroke-dasharray="2.6,1.6"/>
<line x1="25.5" y1="541.7" x2="25.5" y2="470.7" stroke="#161616" stroke-width="1.25"/>
<path d="M22.6,471.7 L25.5,466.7 L28.4,471.7 Z" fill="#000" stroke="none" />
<text x="27.9" y="566.5" font-size="9" text-anchor="start" fill="#111" stroke="#111" stroke-width="0.3" textLength="18.5" lengthAdjust="spacingAndGlyphs" transform="rotate(-90 27.9 566.5)" >Events</text>
<text x="42.3" y="577" font-size="7.2" text-anchor="middle" fill="#111" stroke="#111" stroke-width="0.14" >0</text>
<text x="78.5" y="577" font-size="7.2" text-anchor="middle" fill="#111" stroke="#111" stroke-width="0.14">10<tspan font-size="5.90" dy="-2.7">3</tspan></text>
<text x="100" y="577" font-size="7.2" text-anchor="middle" fill="#111" stroke="#111" stroke-width="0.14">10<tspan font-size="5.90" dy="-2.7">4</tspan></text>
<text x="121" y="577" font-size="7.2" text-anchor="middle" fill="#111" stroke="#111" stroke-width="0.14">10<tspan font-size="5.90" dy="-2.7">5</tspan></text>
<text x="31.7" y="586.7" font-size="7.8" text-anchor="start" fill="#111" stroke="#111" stroke-width="0.25" textLength="15.3" lengthAdjust="spacingAndGlyphs" >IRF8</text>
<line x1="54" y1="583.8" x2="122.8" y2="583.8" stroke="#222" stroke-width="1.3"/>
<path d="M121.8,581.0 L126.8,583.8 L121.8,586.6 Z" fill="#000" stroke="none" />
<path d="M155.50,565.20 C156.17,564.65 157.78,562.37 159.50,561.90 C161.22,561.43 163.43,562.67 165.80,562.40 C168.17,562.13 171.07,561.12 173.70,560.30 C176.33,559.48 179.58,558.48 181.60,557.50 C183.62,556.52 184.43,555.98 185.80,554.40 C187.17,552.82 188.47,550.48 189.80,548.00 C191.13,545.52 192.50,543.50 193.80,539.50 C195.10,535.50 196.35,529.37 197.60,524.00 C198.85,518.63 200.15,512.88 201.30,507.30 C202.45,501.72 203.68,494.80 204.50,490.50 C205.32,486.20 205.67,483.22 206.20,481.50 C206.73,479.78 207.07,477.12 207.70,480.20 C208.33,483.28 209.12,485.83 210.00,500.00 C210.88,514.17 212.50,554.33 213.00,565.20 Z" fill="#86A5C0" stroke="none" />
<path d="M156.30,565.20 C157.88,565.08 162.90,564.78 165.80,564.50 C168.70,564.22 170.67,564.00 173.70,563.50 C176.73,563.00 181.03,563.02 184.00,561.50 C186.97,559.98 189.33,558.07 191.50,554.40 C193.67,550.73 195.42,544.57 197.00,539.50 C198.58,534.43 199.83,529.37 201.00,524.00 C202.17,518.63 203.03,513.22 204.00,507.30 C204.97,501.38 206.05,493.30 206.80,488.50 C207.55,483.70 208.05,480.72 208.50,478.50 C208.95,476.28 209.00,475.23 209.50,475.20 C210.00,475.17 210.77,476.60 211.50,478.30 C212.23,480.00 213.10,480.80 213.90,485.40 C214.70,490.00 215.52,498.80 216.30,505.90 C217.08,513.00 217.82,521.17 218.60,528.00 C219.38,534.83 220.07,541.78 221.00,546.90 C221.93,552.02 223.15,555.65 224.20,558.70 C225.25,561.75 226.78,564.12 227.30,565.20 Z" fill="#E08797" stroke="none" />
<path d="M155.50,565.00 C155.66,563.98 156.78,558.19 157.10,554.80 C157.42,551.41 158.38,535.84 158.70,531.10 C159.02,526.36 160.03,512.13 160.30,507.40 C160.57,502.67 161.20,487.35 161.40,483.80 C161.60,480.25 162.05,472.85 162.30,471.90 C162.55,470.95 163.63,472.64 163.90,474.30 C164.17,475.96 164.73,484.40 165.00,488.50 C165.27,492.60 166.21,510.41 166.60,515.30 C166.99,520.19 168.43,533.29 168.90,537.40 C169.37,541.51 170.94,554.04 171.30,556.40 C171.66,558.76 172.38,560.54 172.50,561.00" fill="none" stroke="#D0203F" stroke-width="1.4" stroke-dasharray="2.4,2" stroke-dashoffset="0.6"/>
<path d="M155.50,565.00 C155.66,563.98 156.78,558.19 157.10,554.80 C157.42,551.41 158.38,535.84 158.70,531.10 C159.02,526.36 160.03,512.13 160.30,507.40 C160.57,502.67 161.20,487.35 161.40,483.80 C161.60,480.25 162.05,472.85 162.30,471.90 C162.55,470.95 163.63,472.64 163.90,474.30 C164.17,475.96 164.73,484.40 165.00,488.50 C165.27,492.60 166.21,510.41 166.60,515.30 C166.99,520.19 168.43,533.29 168.90,537.40 C169.37,541.51 170.94,554.04 171.30,556.40 C171.66,558.76 172.38,560.54 172.50,561.00" fill="none" stroke="#2A4E90" stroke-width="1.4" stroke-dasharray="2.4,2" />
<rect x="147.2" y="466.8" width="97.60000000000002" height="98.40000000000003" fill="none" stroke="#7a7a7a" stroke-width="1.2"/>
<line x1="149.2" y1="566.8000000000001" x2="242.8" y2="566.8000000000001" stroke="#9a9a9a" stroke-width="1.3" stroke-dasharray="0.7,2.4"/>
<line x1="147.2" y1="565.2" x2="244.8" y2="565.2" stroke="#D02848" stroke-width="1.5"/>
<line x1="147.2" y1="565.2" x2="244.8" y2="565.2" stroke="#24508A" stroke-width="1.5" stroke-dasharray="2.6,1.6"/>
<text x="159.7" y="577" font-size="7.2" text-anchor="middle" fill="#111" stroke="#111" stroke-width="0.14" >0</text>
<text x="194.6" y="577" font-size="7.2" text-anchor="middle" fill="#111" stroke="#111" stroke-width="0.14">10<tspan font-size="5.90" dy="-2.7">3</tspan></text>
<text x="222.3" y="577" font-size="7.2" text-anchor="middle" fill="#111" stroke="#111" stroke-width="0.14">10<tspan font-size="5.90" dy="-2.7">4</tspan></text>
<text x="146.9" y="586.2" font-size="8" text-anchor="start" fill="#111" stroke="#111" stroke-width="0.2" textLength="20.4" lengthAdjust="spacingAndGlyphs" >CD37</text>
<line x1="174.3" y1="584.0" x2="239.6" y2="584.0" stroke="#222" stroke-width="1.3"/>
<path d="M238.6,581.2 L243.6,584.0 L238.6,586.8 Z" fill="#000" stroke="none" />
<line x1="94.7" y1="596.5" x2="106.4" y2="596.5" stroke="#D01840" stroke-width="1.1" stroke-dasharray="2.4,1.8"/>
<text x="108.7" y="598.8" font-size="7.8" text-anchor="start" fill="#1c1c1c" stroke="#1c1c1c" stroke-width="0.04" textLength="22.2" lengthAdjust="spacingAndGlyphs" >Isotype</text>
<line x1="94.7" y1="610.5" x2="106.4" y2="610.5" stroke="#3468B0" stroke-width="1.1" stroke-dasharray="2.4,1.8"/>
<text x="108.7" y="613.2" font-size="7.8" text-anchor="start" fill="#1c1c1c" stroke="#1c1c1c" stroke-width="0.04" textLength="22.2" lengthAdjust="spacingAndGlyphs" >Isotype</text>
<rect x="137.9" y="592.3" width="8.1" height="7.9" fill="#E08797" stroke="none" stroke-width="0"/>
<text x="148.9" y="599" font-size="7.8" text-anchor="start" fill="#1c1c1c" stroke="#1c1c1c" stroke-width="0.04" textLength="22.6" lengthAdjust="spacingAndGlyphs" >Control</text>
<rect x="137.9" y="606.6" width="8.1" height="7.6" fill="#86A5C0" stroke="none" stroke-width="0"/>
<text x="148.9" y="613.2" font-size="7.8" text-anchor="start" fill="#1c1c1c" stroke="#1c1c1c" stroke-width="0.04" textLength="25" lengthAdjust="spacingAndGlyphs" >IRF8 KO</text>
<line x1="299.95" y1="463.9" x2="299.95" y2="565.8" stroke="#262626" stroke-width="1.5"/>
<line x1="299.2" y1="565.1" x2="373.7" y2="565.1" stroke="#262626" stroke-width="1.5"/>
<line x1="296.8" y1="565.3" x2="299.4" y2="565.3" stroke="#333" stroke-width="1"/>
<text x="293.4" y="568.0999999999999" font-size="7.8" text-anchor="end" fill="#111" stroke="#111" stroke-width="0.14" >0</text>
<line x1="296.8" y1="545.78" x2="299.4" y2="545.78" stroke="#333" stroke-width="1"/>
<text x="293.4" y="548.5799999999999" font-size="7.8" text-anchor="end" fill="#111" stroke="#111" stroke-width="0.14" >20</text>
<line x1="296.8" y1="526.26" x2="299.4" y2="526.26" stroke="#333" stroke-width="1"/>
<text x="293.4" y="529.06" font-size="7.8" text-anchor="end" fill="#111" stroke="#111" stroke-width="0.14" >40</text>
<line x1="296.8" y1="506.73999999999995" x2="299.4" y2="506.73999999999995" stroke="#333" stroke-width="1"/>
<text x="293.4" y="509.53999999999996" font-size="7.8" text-anchor="end" fill="#111" stroke="#111" stroke-width="0.14" >60</text>
<line x1="296.8" y1="487.21999999999997" x2="299.4" y2="487.21999999999997" stroke="#333" stroke-width="1"/>
<text x="293.4" y="490.02" font-size="7.8" text-anchor="end" fill="#111" stroke="#111" stroke-width="0.14" >80</text>
<line x1="296.8" y1="467.69999999999993" x2="299.4" y2="467.69999999999993" stroke="#333" stroke-width="1"/>
<text x="293.4" y="470.49999999999994" font-size="7.8" text-anchor="end" fill="#111" stroke="#111" stroke-width="0.14" >100</text>
<text x="278.5" y="516.2" font-size="8.8" text-anchor="middle" fill="#111" stroke="#111" stroke-width="0.24" textLength="59.3" lengthAdjust="spacingAndGlyphs" transform="rotate(-90 278.5 516.2)" >% IRF8 positive cells</text>
<line x1="306.3" y1="475.6" x2="330.6" y2="475.6" stroke="#2a2a2a" stroke-width="1.15"/>
<line x1="343.5" y1="488.4" x2="368.1" y2="488.4" stroke="#2a2a2a" stroke-width="1.15"/>
<circle cx="318.3" cy="471.5" r="1.75" fill="#D00A2E"/>
<circle cx="313.9" cy="475.6" r="1.75" fill="#D00A2E"/>
<circle cx="318.3" cy="477.9" r="1.75" fill="#D00A2E"/>
<circle cx="322.7" cy="477.3" r="1.75" fill="#D00A2E"/>
<rect x="354.0" y="476.29999999999995" width="3.2" height="3.2" fill="#135083" stroke="none" stroke-width="0"/>
<rect x="354.0" y="486.5" width="3.2" height="3.2" fill="#135083" stroke="none" stroke-width="0"/>
<rect x="351.7" y="492.29999999999995" width="3.2" height="3.2" fill="#135083" stroke="none" stroke-width="0"/>
<rect x="356.59999999999997" y="492.29999999999995" width="3.2" height="3.2" fill="#135083" stroke="none" stroke-width="0"/>
<line x1="319.2" y1="463.9" x2="355.6" y2="463.9" stroke="#2a2a2a" stroke-width="1.15"/>
<text x="336.7" y="463" font-size="7" text-anchor="middle" fill="#111" stroke="#111" stroke-width="0.14" >*</text>
<line x1="318.3" y1="565.3" x2="318.3" y2="567.5" stroke="#333" stroke-width="1"/>
<line x1="355.6" y1="565.3" x2="355.6" y2="567.5" stroke="#333" stroke-width="1"/>
<text x="318.3" y="577.5" font-size="7.9" text-anchor="middle" fill="#111" stroke="#111" stroke-width="0.14" textLength="24.3" lengthAdjust="spacingAndGlyphs" >Control</text>
<text x="355.6" y="577.5" font-size="7.9" text-anchor="middle" fill="#111" stroke="#111" stroke-width="0.14" textLength="15.5" lengthAdjust="spacingAndGlyphs" >IRF8</text>
<text x="355.6" y="586.8" font-size="7.9" text-anchor="middle" fill="#111" stroke="#111" stroke-width="0.14" textLength="10.8" lengthAdjust="spacingAndGlyphs" >KO</text>
<line x1="438.5" y1="463.9" x2="438.5" y2="565.6" stroke="#1e1e1e" stroke-width="1.3"/>
<line x1="437.85" y1="565" x2="512.4" y2="565" stroke="#1e1e1e" stroke-width="1.2"/>
<line x1="435.5" y1="565.3" x2="438.1" y2="565.3" stroke="#333" stroke-width="1"/>
<text x="432" y="568.0999999999999" font-size="7.8" text-anchor="end" fill="#111" stroke="#111" stroke-width="0.14" >0</text>
<line x1="435.5" y1="532.77" x2="438.1" y2="532.77" stroke="#333" stroke-width="1"/>
<text x="432" y="535.5699999999999" font-size="7.8" text-anchor="end" fill="#111" stroke="#111" stroke-width="0.14" >1000</text>
<line x1="435.5" y1="500.23999999999995" x2="438.1" y2="500.23999999999995" stroke="#333" stroke-width="1"/>
<text x="432" y="503.03999999999996" font-size="7.8" text-anchor="end" fill="#111" stroke="#111" stroke-width="0.14" >2000</text>
<line x1="435.5" y1="467.7099999999999" x2="438.1" y2="467.7099999999999" stroke="#333" stroke-width="1"/>
<text x="432" y="470.50999999999993" font-size="7.8" text-anchor="end" fill="#111" stroke="#111" stroke-width="0.14" >3000</text>
<text x="409" y="516.2" font-size="9" text-anchor="middle" fill="#111" stroke="#111" stroke-width="0.24" textLength="59.3" lengthAdjust="spacingAndGlyphs" transform="rotate(-90 409 516.2)" >CD37 corrected gMFI</text>
<rect x="444.5" y="481.4" width="23.6" height="83.9" fill="#C81436" stroke="none" stroke-width="0"/>
<rect x="479.8" y="493.9" width="23.9" height="71.4" fill="#135083" stroke="none" stroke-width="0"/>
<line x1="456" y1="481.4" x2="456" y2="479.3" stroke="#2a2a2a" stroke-width="1.15"/>
<line x1="449.8" y1="479.3" x2="462.3" y2="479.3" stroke="#2a2a2a" stroke-width="1.15"/>
<line x1="491.7" y1="493.9" x2="491.7" y2="491" stroke="#2a2a2a" stroke-width="1.15"/>
<line x1="485.6" y1="491" x2="497.8" y2="491" stroke="#2a2a2a" stroke-width="1.15"/>
<line x1="456" y1="565.3" x2="456" y2="567.5" stroke="#333" stroke-width="1"/>
<line x1="491.7" y1="565.3" x2="491.7" y2="567.5" stroke="#333" stroke-width="1"/>
<line x1="455.6" y1="472.6" x2="492.6" y2="472.6" stroke="#2a2a2a" stroke-width="1.15"/>
<text x="473" y="471.5" font-size="7" text-anchor="middle" fill="#111" stroke="#111" stroke-width="0.14" >**</text>
<text x="456.5" y="577.2" font-size="7.9" text-anchor="middle" fill="#111" stroke="#111" stroke-width="0.14" textLength="24.3" lengthAdjust="spacingAndGlyphs" >Control</text>
<text x="492" y="577.2" font-size="7.9" text-anchor="middle" fill="#111" stroke="#111" stroke-width="0.14" textLength="15.5" lengthAdjust="spacingAndGlyphs" >IRF8</text>
<text x="492" y="586.2" font-size="7.9" text-anchor="middle" fill="#111" stroke="#111" stroke-width="0.14" textLength="10.8" lengthAdjust="spacingAndGlyphs" >KO</text>
</svg>
<div style="position:absolute;left:0;top:0;width:520px;height:621px;box-sizing:border-box;border:1px solid #000;pointer-events:none"></div>
</body></html>
